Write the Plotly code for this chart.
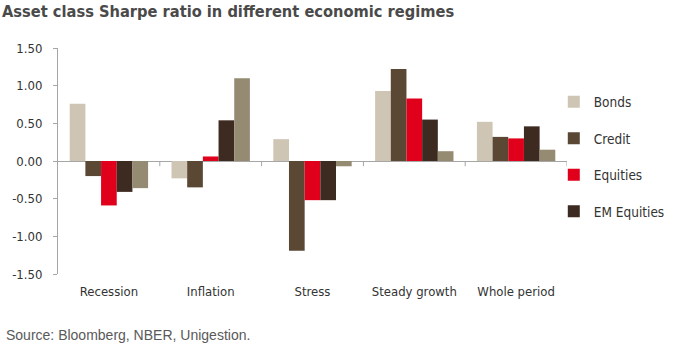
import plotly.graph_objects as go

categories = ["Recession", "Inflation", "Stress", "Steady growth", "Whole period"]
bonds = [0.76, -0.23, 0.29, 0.93, 0.52]
credit = [-0.20, -0.35, -1.19, 1.22, 0.32]
equities = [-0.59, 0.06, -0.52, 0.83, 0.30]
em_equities = [-0.41, 0.54, -0.52, 0.55, 0.46]
commodities = [-0.36, 1.10, -0.07, 0.13, 0.15]
y_ticks = [1.5, 1.0, 0.5, 0.0, -0.5, -1.0, -1.5]
y_tick_labels = ["1.50", "1.00", "0.50", "0.00", "-0.50", "-1.00", "-1.50"]

series = [
    ("Bonds", bonds, "#CEC5B5", True),
    ("Credit", credit, "#5A4734", True),
    ("Equities", equities, "#E0001B", True),
    ("EM Equities", em_equities, "#3D2A21", True),
    ("Commodities", commodities, "#958A72", False),
]

FONT = "DejaVu Sans Condensed, Liberation Sans Narrow, Arial Narrow, sans-serif"

fig = go.Figure()
for name, vals, color, show in series:
    fig.add_trace(go.Bar(
        x=categories, y=vals, name=name, marker_color=color,
        marker_line_width=0, showlegend=show, legendgroup=name,
    ))

# category separator ticks on the zero line
for i in range(len(categories)):
    fig.add_shape(type="line", xref="x", yref="y", x0=i + 0.5, x1=i + 0.5,
                  y0=0, y1=-0.07, line=dict(color="#A6A6A6", width=1))

fig.update_layout(
    width=677, height=346,
    margin=dict(l=58, r=110, t=48, b=72, autoexpand=False),
    paper_bgcolor="white", plot_bgcolor="white",
    barmode="group", bargap=0.23, bargroupgap=0,
    font=dict(family=FONT, size=13, color="#333333"),
    title=dict(text="<b>Asset class Sharpe ratio in different economic regimes</b>",
               x=0.003, xanchor="left", y=0.967, yanchor="middle",
               font=dict(family=FONT, size=16.3, color="#4A4A4A")),
    legend=dict(xref="container", x=0.818, xanchor="left", y=0.83, yanchor="top",
                font=dict(family=FONT, size=13.5, color="#333333"),
                tracegroupgap=16, itemwidth=30, bgcolor="rgba(0,0,0,0)"),
    annotations=[dict(text="Source: Bloomberg, NBER, Unigestion.", xref="paper", yref="paper",
                      x=-0.106, y=-0.272, xanchor="left", yanchor="middle", showarrow=False,
                      font=dict(family="Liberation Sans, Arial, sans-serif", size=14, color="#595959"))],
)
fig.update_xaxes(showline=False, ticks="", showgrid=False, zeroline=False, automargin=False,
                 tickangle=0, tickfont=dict(size=13, color="#333333"), ticklabelstandoff=8,
                 range=[-0.5, 4.5])
fig.update_yaxes(range=[-1.5, 1.5], tickvals=y_ticks, ticktext=y_tick_labels, automargin=False,
                 showgrid=False, showline=True, linecolor="#A6A6A6", linewidth=1,
                 ticks="outside", ticklen=4, tickcolor="#A6A6A6",
                 zeroline=True, zerolinecolor="#A6A6A6", zerolinewidth=1,
                 tickfont=dict(size=13, color="#333333"), ticklabelstandoff=8)

fig.write_html("out.html")
